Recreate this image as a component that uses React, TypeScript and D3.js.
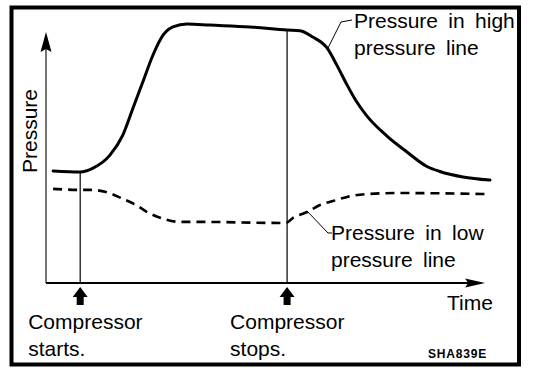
import React from "react";
import * as d3 from "d3";

// Time (arbitrary units 0..100) and pressure (arbitrary units 0..100)
const highTime = [1.6, 7.7, 10.6, 14.4, 17.3, 19.6, 21.8, 24.1, 26.4, 28.6, 31.8, 36.9, 45.9, 54.3, 57.2, 60.1, 63.3, 65.5, 67.8, 70.0, 72.3, 76.8, 81.3, 85.8, 88.7, 93.9, 100];
const highPressure = [43.1, 42.7, 44.2, 49.2, 56.9, 67.3, 77.3, 87.7, 95.4, 98.5, 99.6, 99.2, 98.5, 97.3, 97.0, 94.6, 90.4, 83.8, 76.2, 69.6, 64.2, 56.5, 50.4, 44.8, 42.9, 40.8, 39.6];

const lowTime = [1.6, 7.7, 10.1, 13.5, 16.9, 20.3, 23.2, 26.6, 30.0, 34.7, 52.7, 54.3, 55.6, 58.8, 61.7, 64.6, 67.8, 72.3, 79.1, 100];
const lowPressure = [36.2, 35.8, 35.8, 35.0, 32.7, 30.0, 26.9, 24.6, 23.5, 23.5, 23.1, 23.3, 25.0, 27.3, 30.0, 31.5, 33.1, 34.2, 34.6, 34.2];

const eventTimes = [7.7, 54.3];
const eventLabels = [["Compressor", "starts."], ["Compressor", "stops."]];
const highLabel = ["Pressure in high", "pressure line"];
const lowLabel = ["Pressure in low", "pressure line"];
const axisLabels = { y: "Pressure", x: "Time" };
const figureCode = "SHA839E";

const W = 560;
const H = 388;
const FONT = "'Liberation Sans', Arial, Helvetica, sans-serif";

export default function App() {
  const x = d3.scaleLinear().domain([0, 100]).range([46, 490]);
  const y = d3.scaleLinear().domain([0, 100]).range([283, 23]);

  const line = d3
    .line<[number, number]>()
    .x((d) => x(d[0]))
    .y((d) => y(d[1]))
    .curve(d3.curveMonotoneX);

  const highData: [number, number][] = highTime.map((t, i) => [t, highPressure[i]]);
  const lowData: [number, number][] = lowTime.map((t, i) => [t, lowPressure[i]]);
  const highAt = d3.scaleLinear().domain(highTime).range(highPressure);

  const x0 = x(0);
  const y0 = y(0);
  const yTop = y(96.5);
  const xEnd = x(98.9);

  const upArrow = (cx: number) => {
    const t = y0 + 4;
    return `M${cx},${t} L${cx + 7.5},${t + 10} L${cx + 3.5},${t + 10} L${cx + 3.5},${t + 18} L${cx - 3.5},${t + 18} L${cx - 3.5},${t + 10} L${cx - 7.5},${t + 10} Z`;
  };

  const textStyle: React.CSSProperties = { fontFamily: FONT, fontSize: 21, wordSpacing: 4.5 };
  const labelOffsets = [-52, -57];

  return (
    <svg
      width={W}
      height={H}
      viewBox={`0 0 ${W} ${H}`}
      style={{ position: "absolute", left: 0, top: 0, background: "#fff" }}
    >
      <rect x={11.5} y={7.5} width={507.5} height={357} fill="#fff" stroke="#000" strokeWidth={4} />

      {/* axes */}
      <line x1={x0} y1={y0} x2={x0} y2={yTop + 10} stroke="#000" strokeWidth={1.1} />
      <path d={`M${x0},${yTop} L${x0 + 5.5},${yTop + 20} L${x0},${yTop + 17} L${x0 - 5.5},${yTop + 20} Z`} fill="#000" />
      <line x1={x0} y1={y0} x2={xEnd - 15} y2={y0} stroke="#000" strokeWidth={2.2} />
      <path d={`M${xEnd},${y0} L${xEnd - 20},${y0 + 4.5} L${xEnd - 17},${y0} L${xEnd - 20},${y0 - 4.5} Z`} fill="#000" />

      {/* event lines */}
      {eventTimes.map((t, i) => (
        <line key={i} x1={x(t)} x2={x(t)} y1={y(highAt(t))} y2={y0} stroke="#000" strokeWidth={1.2} />
      ))}

      {/* curves */}
      <path d={line(highData) || ""} fill="none" stroke="#000" strokeWidth={3} strokeLinecap="round" strokeLinejoin="round" />
      <path d={line(lowData) || ""} fill="none" stroke="#000" strokeWidth={2.6} strokeDasharray="9 6" />

      {/* leaders */}
      <path d="M352,20 L341,22 L327,50" fill="none" stroke="#000" strokeWidth={1} />
      <path d="M303,215 L307,211 L328,233 L332,233" fill="none" stroke="#000" strokeWidth={1} />

      {/* arrows under axis */}
      {eventTimes.map((t, i) => (
        <path key={i} d={upArrow(x(t))} fill="#000" />
      ))}

      {/* texts */}
      <text x={37} y={131} transform="rotate(-90 37 131)" textAnchor="middle" style={textStyle}>
        {axisLabels.y}
      </text>
      <text x={447} y={310} style={textStyle}>
        {axisLabels.x}
      </text>
      {eventLabels.map((lines, i) => (
        <text key={i} x={x(eventTimes[i]) + labelOffsets[i]} y={329} style={textStyle}>
          {lines.map((s, j) => (
            <tspan key={j} x={x(eventTimes[i]) + labelOffsets[i]} dy={j === 0 ? 0 : 27}>
              {s}
            </tspan>
          ))}
        </text>
      ))}
      <text x={354} y={28} style={textStyle}>
        {highLabel.map((s, j) => (
          <tspan key={j} x={354} dy={j === 0 ? 0 : 27}>
            {s}
          </tspan>
        ))}
      </text>
      <text x={331} y={240} style={textStyle}>
        {lowLabel.map((s, j) => (
          <tspan key={j} x={331} dy={j === 0 ? 0 : 27}>
            {s}
          </tspan>
        ))}
      </text>
      <text x={428} y={358} style={{ fontFamily: FONT, fontSize: 12, fontWeight: "bold", letterSpacing: 0.8 }}>
        {figureCode}
      </text>
    </svg>
  );
}
